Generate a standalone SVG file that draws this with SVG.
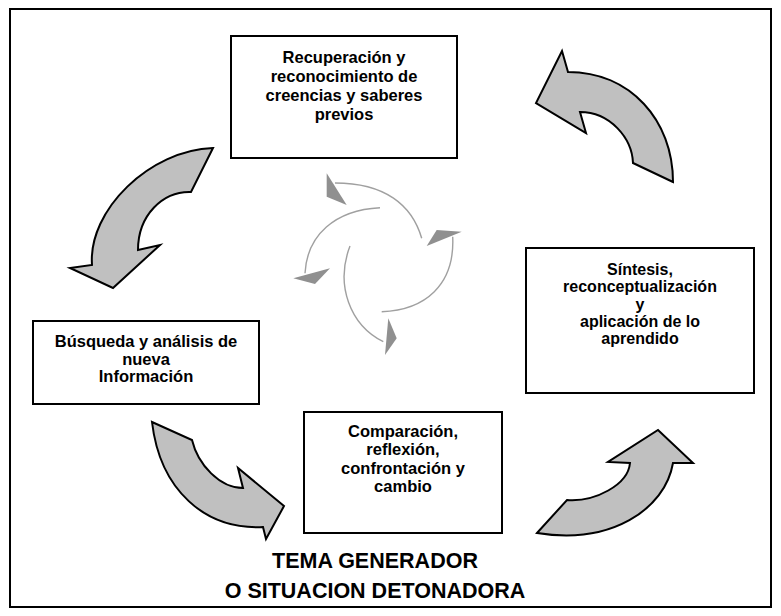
<svg xmlns="http://www.w3.org/2000/svg" width="781" height="616" viewBox="0 0 781 616">
<style>
.box{fill:#fff;stroke:#000;stroke-width:2}
.t{font-family:"Liberation Sans",Arial,sans-serif;font-weight:bold;font-size:16.5px;fill:#000;text-anchor:middle}
.ts{font-family:"Liberation Sans",Arial,sans-serif;font-weight:bold;font-size:16px;fill:#000;text-anchor:middle}
.title{font-family:"Liberation Sans",Arial,sans-serif;font-weight:bold;font-size:21.5px;fill:#000;text-anchor:middle}
.big{fill:#c0c0c0;stroke:#000;stroke-width:2;stroke-linejoin:miter}
.sw{fill:none;stroke:#a0a0a0;stroke-width:1.4}
.sh{fill:#909090;stroke:none}
</style>
<rect x="0" y="0" width="781" height="616" fill="#fff"/>
<rect x="10" y="9" width="761" height="598" fill="#fff" stroke="#000" stroke-width="2"/>

<g id="connectors">
  <path id="arrow-top-right" class="big" d="M 673,182 L 633,163 C 632,138 610,112 580,112 L 586,133 L 536,103 L 562,51 L 568,72 C 630,72 673,120 673,182 Z"/>
  <path id="arrow-top-left" class="big" d="M 213,148 L 191,192 C 163,191 138,215 138,250 L 160,245 L 113,288 L 70,268 L 92,265 C 88,210 150,150 213,148 Z"/>
  <path id="arrow-bottom-left" class="big" d="M 152,422 L 192,440 C 198,465 220,488 243,488 L 238,468 L 284,506 L 266,539 L 263,527 C 205,530 160,490 152,422 Z"/>
  <path id="arrow-bottom-right" class="big" d="M 537,533 L 567,500 C 595,502 628,485 630,463 L 608,462 L 658,430 L 693,463 L 673,463 C 665,510 610,545 537,533 Z"/>
  <g id="swirl">
    <path class="sw" d="M 421.7,238.3 C 412,205 385,183 335,183"/>
    <polygon class="sh" points="326.7,173.3 346.7,205 326.7,196.7"/>
    <path class="sw" d="M 380,207.7 C 335,210 307,235 305,273.3"/>
    <polygon class="sh" points="293.3,278.3 330,268.3 315,284"/>
    <path class="sw" d="M 350,246 C 335,285 350,325 383.3,341.7"/>
    <polygon class="sh" points="388.3,318.3 396.7,338.3 385,355"/>
    <path class="sw" d="M 381.7,311.7 C 425,310 455,285 452.7,236.7"/>
    <polygon class="sh" points="426.7,246 436.7,230 461.7,231.7"/>
  </g>
</g>

<g id="node-recuperacion">
  <rect class="box" x="231" y="36" width="226" height="122"/>
  <text class="t" x="344" y="63">Recuperación y</text>
  <text class="t" x="344" y="82">reconocimiento de</text>
  <text class="t" x="344" y="101">creencias y saberes</text>
  <text class="t" x="344" y="119.5">previos</text>
</g>

<g id="node-sintesis">
  <rect class="box" x="526" y="248" width="228" height="145"/>
  <text class="ts" x="640" y="275">Síntesis,</text>
  <text class="ts" x="640" y="292">reconceptualización</text>
  <text class="ts" x="640" y="309.5">y</text>
  <text class="ts" x="640" y="326.5">aplicación de lo</text>
  <text class="ts" x="640" y="343.5">aprendido</text>
</g>

<g id="node-busqueda">
  <rect class="box" x="33" y="321" width="226" height="83"/>
  <text class="t" x="146" y="347">Búsqueda y análisis de</text>
  <text class="t" x="146" y="364.5">nueva</text>
  <text class="t" x="146" y="382">Información</text>
</g>

<g id="node-comparacion">
  <rect class="box" x="304" y="412" width="198" height="121"/>
  <text class="t" x="403" y="437">Comparación,</text>
  <text class="t" x="403" y="455">reflexión,</text>
  <text class="t" x="403" y="473.5">confrontación y</text>
  <text class="t" x="403" y="492">cambio</text>
</g>

<g id="title">
  <text class="title" x="375" y="568">TEMA GENERADOR</text>
  <text class="title" x="375" y="598">O SITUACION DETONADORA</text>
</g>
</svg>
